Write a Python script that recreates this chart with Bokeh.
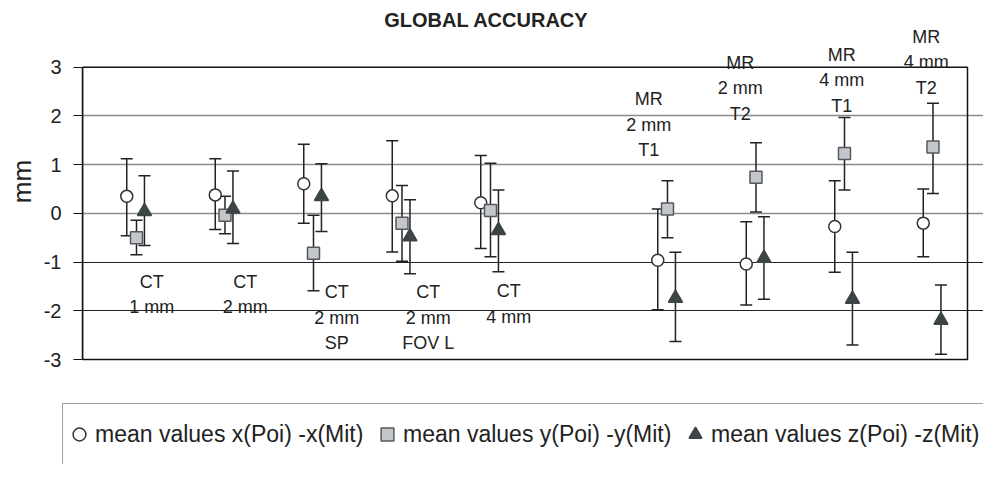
from bokeh.plotting import figure
from bokeh.models import (ColumnDataSource, Range1d, FixedTicker, Grid,
                          LabelSet, Label, Legend, LegendItem)
from bokeh.transform import dodge
from bokeh.core.properties import value
from bokeh.embed import file_html
from bokeh.resources import INLINE

# ---- data -------------------------------------------------------------
slots = ["CT 1 mm", "CT 2 mm", "CT 2 mm SP", "CT 2 mm FOV L", "CT 4 mm", "",
         "MR 2 mm T1", "MR 2 mm T2", "MR 4 mm T1", "MR 4 mm T2"]
groups = ["CT 1 mm", "CT 2 mm", "CT 2 mm SP", "CT 2 mm FOV L", "CT 4 mm",
          "MR 2 mm T1", "MR 2 mm T2", "MR 4 mm T1", "MR 4 mm T2"]
group_labels = ["CT\n1 mm", "CT\n2 mm", "CT\n2 mm\nSP", "CT\n2 mm\nFOV L", "CT\n4 mm",
                "MR\n2 mm\nT1", "MR\n2 mm\nT2", "MR\n4 mm\nT1", "MR\n4 mm\nT2"]

x_mean = [0.35, 0.38, 0.61, 0.36, 0.22, -0.96, -1.04, -0.27, -0.20]
x_lo = [-0.46, -0.33, -0.20, -0.79, -0.72, -1.98, -1.88, -1.21, -0.89]
x_hi = [1.12, 1.12, 1.42, 1.49, 1.19, 0.09, -0.17, 0.67, 0.50]

y_mean = [-0.50, -0.04, -0.82, -0.20, 0.06, 0.09, 0.74, 1.23, 1.36]
y_lo = [-0.85, -0.42, -1.59, -0.98, -0.89, -0.50, 0.03, 0.48, 0.41]
y_hi = [-0.14, 0.35, -0.04, 0.57, 1.03, 0.67, 1.45, 1.97, 2.26]

z_mean = [0.04, 0.09, 0.35, -0.48, -0.35, -1.74, -0.92, -1.76, -2.19]
z_lo = [-0.66, -0.62, -0.37, -1.24, -1.20, -2.63, -1.76, -2.70, -2.89]
z_hi = [0.77, 0.87, 1.02, 0.28, 0.48, -0.80, -0.07, -0.80, -1.47]

y_ticks = [-3, -2, -1, 0, 1, 2, 3]
title_text = "GLOBAL ACCURACY"
y_label = "mm"
series_names = ["mean values x(Poi) -x(Mit)", "mean values y(Poi) -y(Mit)",
                "mean values z(Poi) -z(Mit)"]

# ---- label placement (layout, not data) -------------------------------
label_y = [-1.40, -1.40, -1.62, -1.62, -1.60, 2.34, 3.09, 3.26, 3.63]   # first line centre
label_dx_px = [25, 30, 33, 36, 28, -9, -6, 7, 3]
LINE_STEP = 25.5

xpos = [slots.index(g) + 0.5 for g in groups]

src = ColumnDataSource(dict(
    x=xpos,
    xm=x_mean, xl=x_lo, xh=x_hi,
    ym=y_mean, yl=y_lo, yh=y_hi,
    zm=z_mean, zl=z_lo, zh=z_hi,
))

lt, lx, ly, ldx, ldy = [], [], [], [], []
for i, lab in enumerate(group_labels):
    for k, line in enumerate(lab.split("\n")):
        lt.append(line); lx.append(xpos[i]); ly.append(label_y[i])
        ldx.append(label_dx_px[i]); ldy.append(-k * LINE_STEP)
lab_src = ColumnDataSource(dict(t=lt, x=lx, y=ly, dx=ldx, dy=ldy))

FONT = "Liberation Sans"
INK = "#222222"

W = 983
n_slots = len(slots)
p = figure(width=W, height=380, output_backend="svg", toolbar_location=None,
           x_range=Range1d(0, n_slots * (W - 82) / 885),
           y_range=Range1d(y_ticks[0] - 0.06, y_ticks[-1] + 1.369),
           x_axis_location=None, title_location=None,
           min_border_left=82, min_border_right=0, min_border_top=0,
           min_border_bottom=18)
p.outline_line_color = None

# title (drawn as a label so category labels above the box are not clipped)
p.add_layout(Label(x=4.565, y=3.96, text=title_text, text_align="center",
                   text_baseline="middle", text_font=FONT, text_font_size="20px",
                   text_font_style="bold", text_color=INK))

# y axis
ax = p.yaxis[0]
ax.ticker = FixedTicker(ticks=y_ticks)
ax.bounds = (y_ticks[0], y_ticks[-1])
ax.major_label_overrides = {t: str(t) for t in y_ticks}
ax.axis_label = y_label
ax.axis_label_text_font = FONT
ax.axis_label_text_font_size = "26px"
ax.axis_label_text_font_style = "normal"
ax.axis_label_text_color = INK
ax.axis_label_standoff = 4
ax.major_label_text_font = FONT
ax.major_label_text_font_size = "20px"
ax.major_label_text_color = INK
ax.major_label_standoff = 12
ax.major_tick_out = 9
ax.major_tick_in = 0
ax.minor_tick_line_color = None
ax.axis_line_color = "#111111"
ax.axis_line_width = 1.5
ax.major_tick_line_color = "#111111"

# grids
p.xgrid.visible = False
p.ygrid.ticker = FixedTicker(ticks=[0, 1, 2])
p.ygrid.grid_line_color = "#8c8c8c"
p.ygrid.grid_line_width = 1.5
p.ygrid.bounds = (0, n_slots)
g2 = Grid(dimension=1, ticker=FixedTicker(ticks=[-2, -1]),
          grid_line_color="#222222", grid_line_width=1, bounds=(0, n_slots))
p.add_layout(g2)

# plot-area box
p.quad(left=0, right=n_slots, bottom=y_ticks[0], top=y_ticks[-1],
       fill_color=None, line_color="#111111", line_width=1.5)

# error bars + markers
series = [
    ("xm", "xl", "xh", 0.0, "circle", 12, "white", "#333333"),
    ("ym", "yl", "yh", 0.11, "square", 12, "#c3c6cb", "#55595d"),
    ("zm", "zl", "zh", 0.20, "triangle", 14, "#3c4446", "#3c4446"),
]
for m, lo, hi, off, marker, size, fill, line in series:
    xs = dodge("x", off)
    p.segment(x0=xs, y0=lo, x1=xs, y1=hi, source=src, line_color=INK, line_width=1.5)
    p.scatter(x=xs, y=lo, source=src, marker="dash", size=12, line_color=INK, line_width=1.5)
    p.scatter(x=xs, y=hi, source=src, marker="dash", size=12, line_color=INK, line_width=1.5)
for m, lo, hi, off, marker, size, fill, line in series:
    xs = dodge("x", off)
    p.scatter(x=xs, y=m, source=src, marker=marker, size=size,
              fill_color=fill, line_color=line, line_width=1.5)

# category labels (one row per text line, each centred)
p.add_layout(LabelSet(x="x", y="y", text="t", x_offset="dx", y_offset="dy", source=lab_src,
                      text_font=value(FONT), text_font_size="18px", text_color=INK,
                      text_align="center", text_baseline="middle"))

# ---- legend strip (second root, stacked below) --------------------------
q = figure(width=W, height=84, output_backend="svg", toolbar_location=None,
           x_range=Range1d(0, 1), y_range=Range1d(0, 1),
           x_axis_location=None, y_axis_location=None, title_location=None,
           min_border=0)
q.outline_line_color = None
q.grid.visible = False
swatches = []
for m, lo, hi, off, marker, size, fill, line in series:
    swatches.append(q.scatter(x="x", y=m, source=src, marker=marker, size=size,
                              fill_color=fill, line_color=line, line_width=1.5,
                              visible=False))
legend = Legend(items=[LegendItem(label=n, renderers=[r]) for n, r in zip(series_names, swatches)],
                location=(62, -1), orientation="horizontal", padding=0,
                glyph_width=32, glyph_height=60, label_height=60, label_width=275,
                label_standoff=0, spacing=1,
                border_line_color="#444444", border_line_width=1.5,
                label_text_font=FONT, label_text_font_size="23px",
                label_text_color=INK, background_fill_color="white", margin=0,
                inactive_fill_alpha=0)
q.add_layout(legend)

open("out.html", "w").write(file_html([p, q], INLINE))
